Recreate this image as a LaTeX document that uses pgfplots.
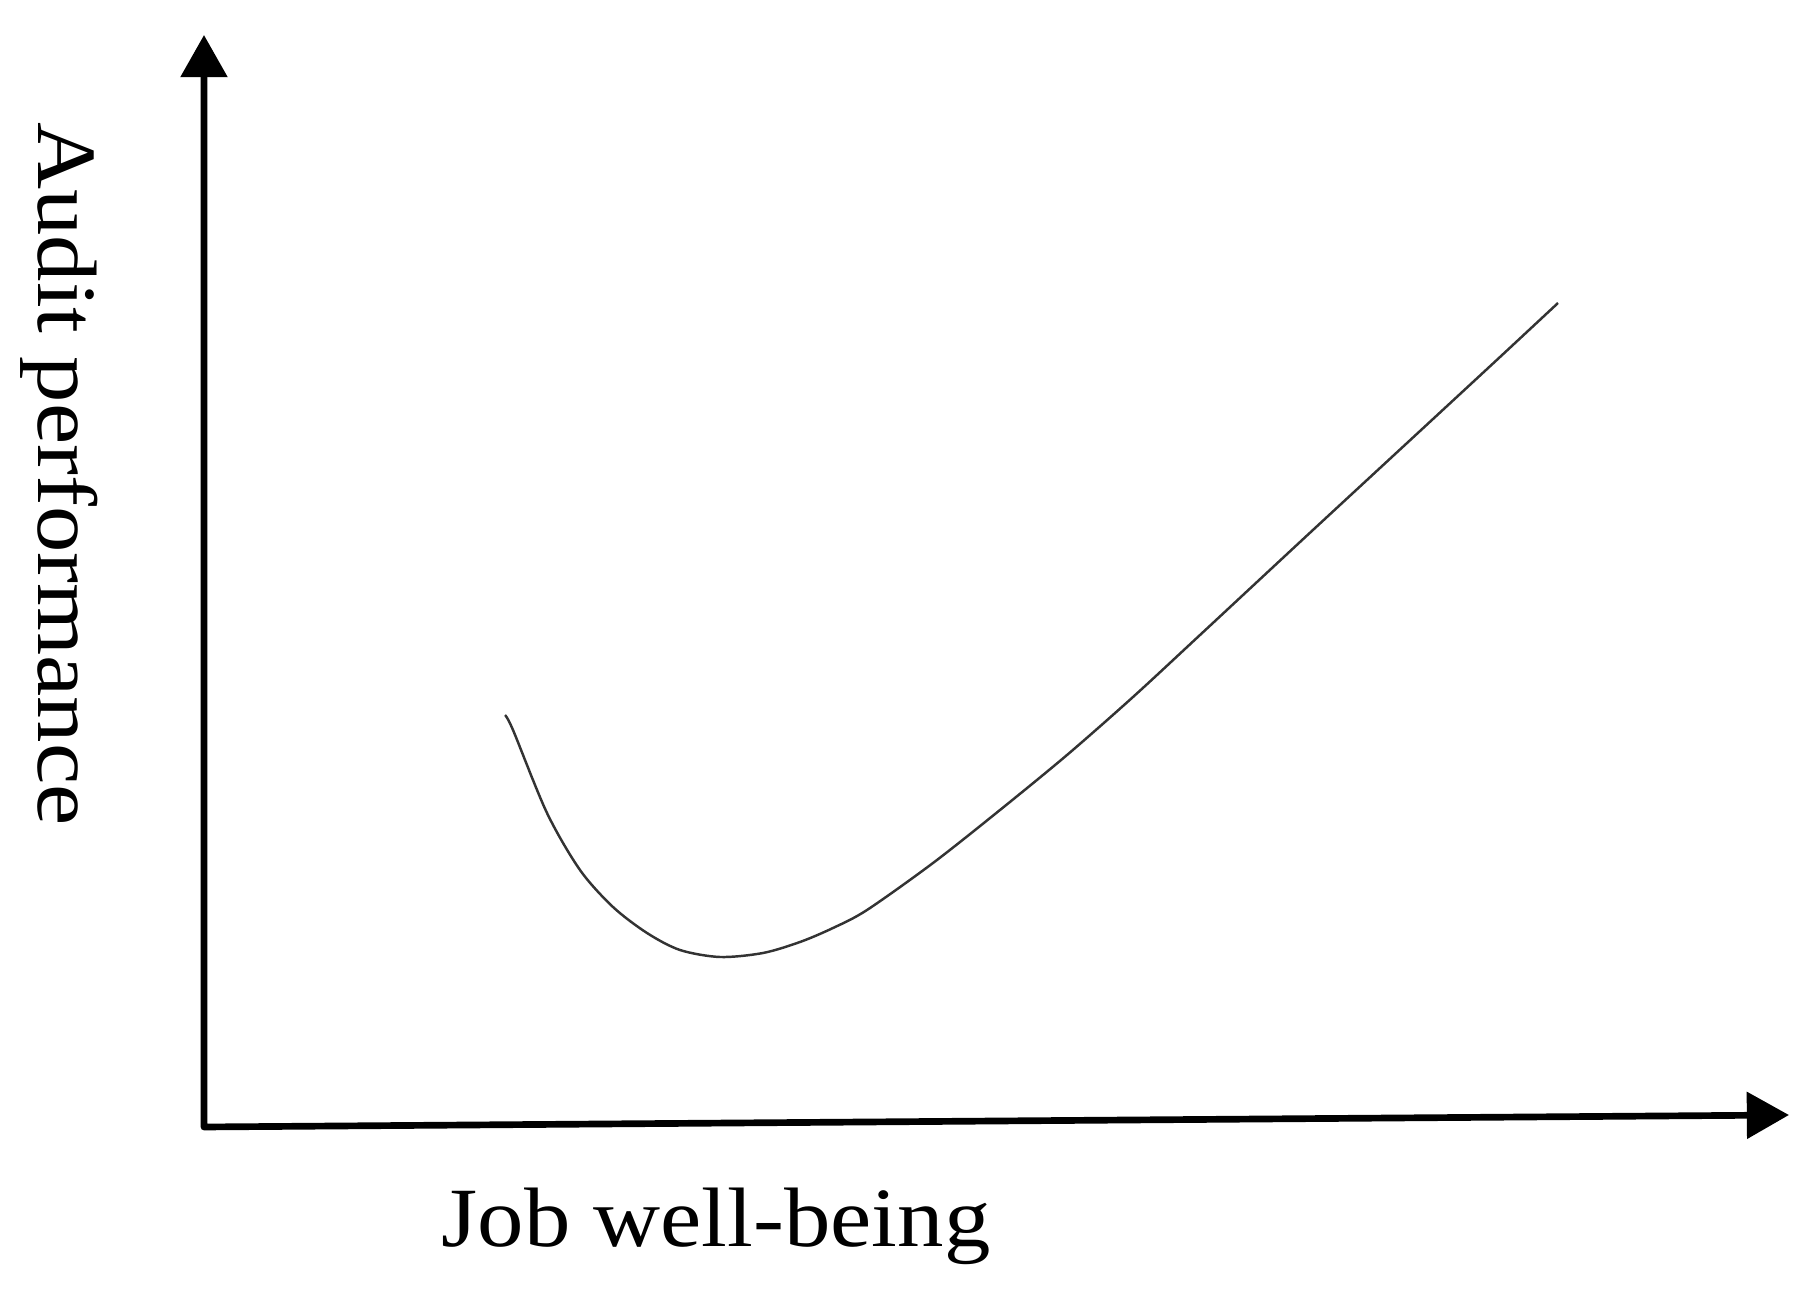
\documentclass[border=0pt]{standalone}
\usepackage{fontspec}
\setmainfont{Liberation Serif}
\newfontfamily\lblfont[FakeStretch=1.1]{Liberation Serif}
\usepackage{pgfplots}
\pgfplotsset{compat=1.18}
\usetikzlibrary{arrows.meta}
\begin{document}
\begin{tikzpicture}
\begin{axis}[width=18.12cm,height=13.04cm,scale only axis,
  xmin=0,xmax=1812,ymin=0,ymax=1304,hide axis,clip=false]
\addplot[draw=none,forget plot] coordinates {(0,0) (1812,1304)};
% axes
\addplot[line width=1.9pt, line join=round,
  {Triangle[width=13pt,length=12pt]}-{Triangle[width=13pt,length=12pt]}]
  coordinates {(204,1269) (204,177) (1789,189)};
% curve
\addplot[smooth, line width=0.7pt, color=black!80] coordinates {
(505,589) (513,574) (547,491) (580,434) (613,397) (647,371) (680,354)
(720,347) (763,351) (800,362) (833,376) (867,394) (933,441) (1000,494)
(1067,549) (1133,607) (1200,669) (1300,762) (1367,824) (1433,885)
(1500,947) (1558,1001)
};
\node[rotate=-90, font=\lblfont\fontsize{24}{28}\selectfont] at (axis cs:59,830) {Audit performance};
\node[font=\lblfont\fontsize{24}{28}\selectfont] at (axis cs:716,78) {Job well-being};
\end{axis}
\end{tikzpicture}
\end{document}
